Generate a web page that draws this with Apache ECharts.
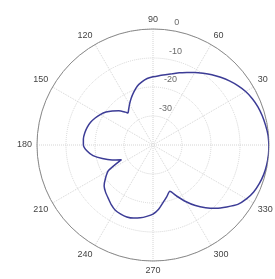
<head>
  <meta charset="UTF-8">
  <title>polar pattern</title>
  <script src="https://cdn.jsdelivr.net/npm/echarts@6/dist/echarts.min.js" type="text/javascript" charset="utf-8"></script>
</head>

<body style="margin:0">
  <div id="chart" style="width: 275px;height:279px;"></div>
  <script type="text/javascript">
    // 方向图 (dB)，角度单位为度
    const angles = [0, 5, 10, 15, 20, 25, 30, 35, 40, 45, 50, 55, 60, 65, 70, 75, 80, 85, 90, 95,
      100, 105, 110, 115, 120, 125, 128, 130, 135, 140, 145, 150, 155, 160, 165, 170, 175, 180,
      185, 190, 195, 200, 205, 210, 215, 220, 225, 230, 235, 240, 245, 250, 255, 260, 265, 270,
      275, 280, 285, 290, 295, 300, 305, 310, 315, 320, 325, 330, 335, 340, 345, 350, 355, 360];
    const gainDb = [0, -0.2, -0.6, -1.0, -1.5, -2.2, -3.1, -4.3, -5.6, -7.0, -8.4, -9.8, -11.1, -12.4, -13.5, -14.6, -15.4, -16.0, -16.5, -17.0,
      -17.9, -19.0, -20.6, -22.2, -23.8, -25.3, -26.0, -25.2, -23.3, -21.7, -20.2, -19.0, -18.0, -17.1, -16.5, -16.1, -15.9, -16.0,
      -17.1, -19.0, -21.9, -25.0, -28.0, -22.2, -20.0, -18.0, -16.9, -16.0, -14.9, -14.0, -13.7, -13.6, -13.9, -14.5, -15.3, -16.2,
      -17.8, -19.9, -21.6, -23.0, -20.5, -17.5, -14.5, -11.8, -9.2, -6.8, -4.3, -2.8, -1.7, -1.0, -0.5, -0.2, -0.05, 0];
    const rhoTicks = [0, -10, -20, -30];
    const rhoLabelAngle = 80;

    const myChart = echarts.init(document.getElementById('chart'));
    const txt = { color: '#444', fontSize: 9, fontFamily: 'Liberation Sans' };

    const option = {
      animation: false,
      polar: { center: [153, 145], radius: 116 },
      angleAxis: {
        type: 'value', min: 0, max: 360, interval: 30,
        startAngle: 0, clockwise: false,
        axisLine: { lineStyle: { color: '#8a8a8a', width: 1 } },
        axisTick: { show: false },
        axisLabel: Object.assign({
          margin: 5,
          formatter: v => (v === 0 || v === 360) ? '' : String(v)
        }, txt),
        splitLine: { lineStyle: { color: '#d4d4d4', type: 'dotted', width: 1 } }
      },
      radiusAxis: {
        type: 'value', min: -40, max: 0, interval: 10,
        axisLine: { show: false },
        axisTick: { show: false },
        axisLabel: { show: false },
        splitLine: { lineStyle: { color: '#d4d4d4', type: 'dotted', width: 1 } }
      },
      series: [
        {
          type: 'line',
          coordinateSystem: 'polar',
          symbol: 'none',
          smooth: 0.2,
          lineStyle: { color: '#3c3c96', width: 1.5 },
          data: angles.map((a, i) => [gainDb[i], a])
        },
        {
          // 半径刻度标签
          type: 'scatter',
          coordinateSystem: 'polar',
          symbolSize: 0,
          silent: true,
          label: Object.assign({
            show: true, position: 'right', distance: 1, offset: [0, -8],
            formatter: p => String(p.value[0])
          }, txt),
          data: rhoTicks.map(r => [r, rhoLabelAngle])
        }
      ]
    };
    myChart.setOption(option);
  </script>
</body>
